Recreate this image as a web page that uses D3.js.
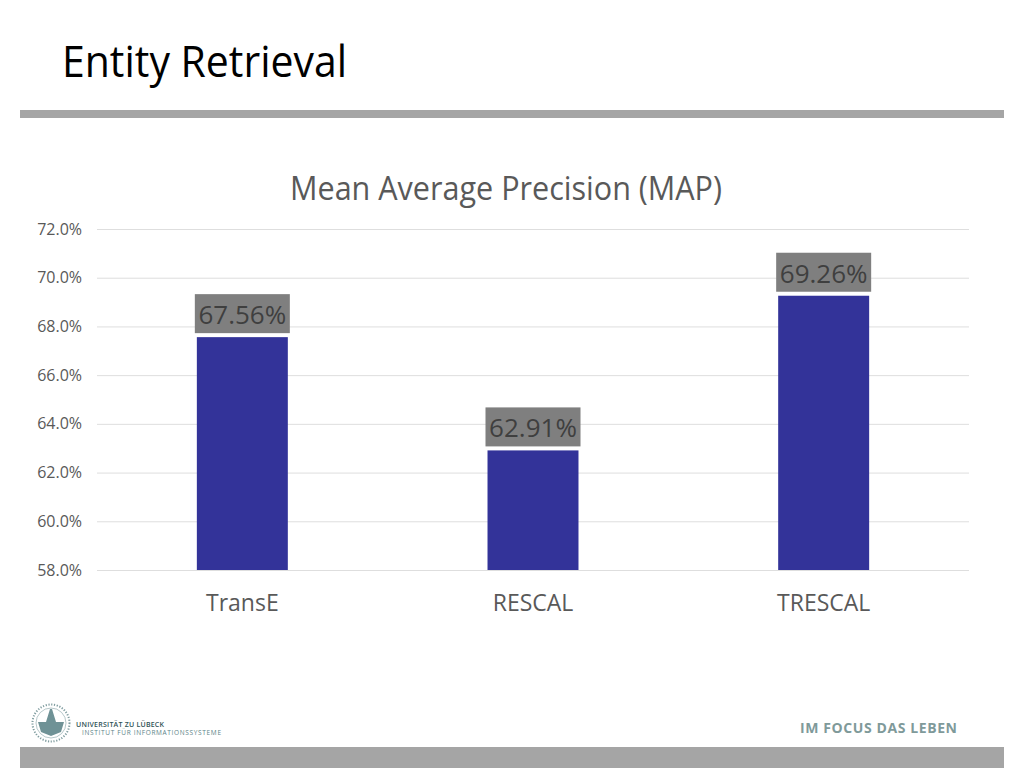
<!DOCTYPE html>
<html>
<head>
<meta charset="utf-8">
<script src="https://cdn.jsdelivr.net/npm/d3@7"></script>
<style>
  html, body { margin: 0; padding: 0; background: #fff; }
  svg { display: block; }
  text { font-family: "Open Sans", "Noto Sans", sans-serif; }
</style>
</head>
<body>
<svg id="chart" width="1024" height="768"></svg>
<script>
const categories = ['TransE', 'RESCAL', 'TRESCAL']
const values = [67.56, 62.91, 69.26]
const valueLabels = ['67.56%', '62.91%', '69.26%']
const yTicks = [58, 60, 62, 64, 66, 68, 70, 72]

const svg = d3.select('#chart')

// slide furniture
svg.append('rect').attr('x', 20).attr('y', 110).attr('width', 984).attr('height', 8).attr('fill', '#a5a5a5')
svg.append('rect').attr('x', 20).attr('y', 747).attr('width', 984).attr('height', 21).attr('fill', '#a5a5a5')
svg.append('text').attr('x', 62).attr('y', 77)
  .attr('font-size', 44).attr('fill', '#000').attr('textLength', 285).attr('lengthAdjust', 'spacingAndGlyphs')
  .text('Entity Retrieval')

const x = d3.scaleBand().domain(categories).range([97, 969]).paddingInner(0.687).paddingOuter(0.3435)
const y = d3.scaleLinear().domain([58, 72]).range([570, 229])

svg.append('text').attr('x', 506).attr('y', 200).attr('text-anchor', 'middle')
  .attr('font-size', 32).attr('fill', '#595959').attr('textLength', 432).attr('lengthAdjust', 'spacingAndGlyphs')
  .text('Mean Average Precision (MAP)')

// y axis with gridlines
const yAxis = svg.append('g')
  .attr('transform', 'translate(97,0)')
  .call(d3.axisLeft(y).tickValues(yTicks).tickFormat(d => d3.format('.1f')(d) + '%').tickSize(-872).tickPadding(15))
yAxis.select('.domain').remove()
yAxis.selectAll('line').attr('stroke', '#dedede').attr('stroke-width', 1)
yAxis.selectAll('text').attr('font-size', 16).attr('fill', '#595959')

// x axis labels
const xAxis = svg.append('g')
  .attr('transform', 'translate(0,570)')
  .call(d3.axisBottom(x).tickSize(0).tickPadding(25))
xAxis.select('.domain').remove()
xAxis.selectAll('text').attr('font-size', 23).attr('fill', '#595959')

// bars
svg.selectAll('.bar')
  .data(values)
  .enter()
  .append('rect')
  .attr('class', 'bar')
  .attr('x', (d, i) => x(categories[i]))
  .attr('y', d => y(d))
  .attr('width', x.bandwidth())
  .attr('height', d => y(58) - y(d))
  .attr('fill', '#333399')

// value labels on grey boxes
const labels = svg.selectAll('.value')
  .data(values)
  .enter()
  .append('g')
  .attr('class', 'value')
  .attr('transform', (d, i) => `translate(${x(categories[i]) + x.bandwidth() / 2},${y(d)})`)
labels.append('rect')
  .attr('x', -47.5).attr('y', -43).attr('width', 95).attr('height', 39)
  .attr('fill', '#7f7f7f')
labels.append('text')
  .attr('y', -13).attr('text-anchor', 'middle')
  .attr('font-size', 26).attr('fill', '#3f3f3f')
  .text((d, i) => valueLabels[i])

// footer: university seal and texts
const seal = svg.append('g').attr('transform', 'translate(51,723)').attr('fill', 'none').attr('stroke', '#4a7478')
seal.append('circle').attr('r', 18.5).attr('stroke-width', 2).attr('stroke-dasharray', '1.2 1.6').attr('opacity', 0.7)
seal.append('circle').attr('r', 15).attr('stroke-width', 0.4)
seal.append('path').attr('d', d3.line()([[-13, -1], [-10, 9], [0, 13], [10, 9], [13, -1], [5, -1], [1, -14], [-1, -14], [-5, -1]]) + 'Z')
  .attr('fill', '#6f9296').attr('stroke', 'none')

svg.append('text').attr('x', 76).attr('y', 727)
  .attr('font-size', 7).attr('font-weight', 600).attr('fill', '#2f5256')
  .attr('textLength', 88).attr('lengthAdjust', 'spacing')
  .text('UNIVERSITÄT ZU LÜBECK')
svg.append('text').attr('x', 82).attr('y', 735)
  .attr('font-size', 6.5).attr('fill', '#5d8488')
  .attr('textLength', 139).attr('lengthAdjust', 'spacing')
  .text('INSTITUT FÜR INFORMATIONSSYSTEME')
svg.append('text').attr('x', 800).attr('y', 733)
  .attr('font-size', 14).attr('font-weight', 700).attr('fill', '#7f9a9a')
  .attr('textLength', 157).attr('lengthAdjust', 'spacing')
  .text('IM FOCUS DAS LEBEN')
</script>
</body>
</html>
